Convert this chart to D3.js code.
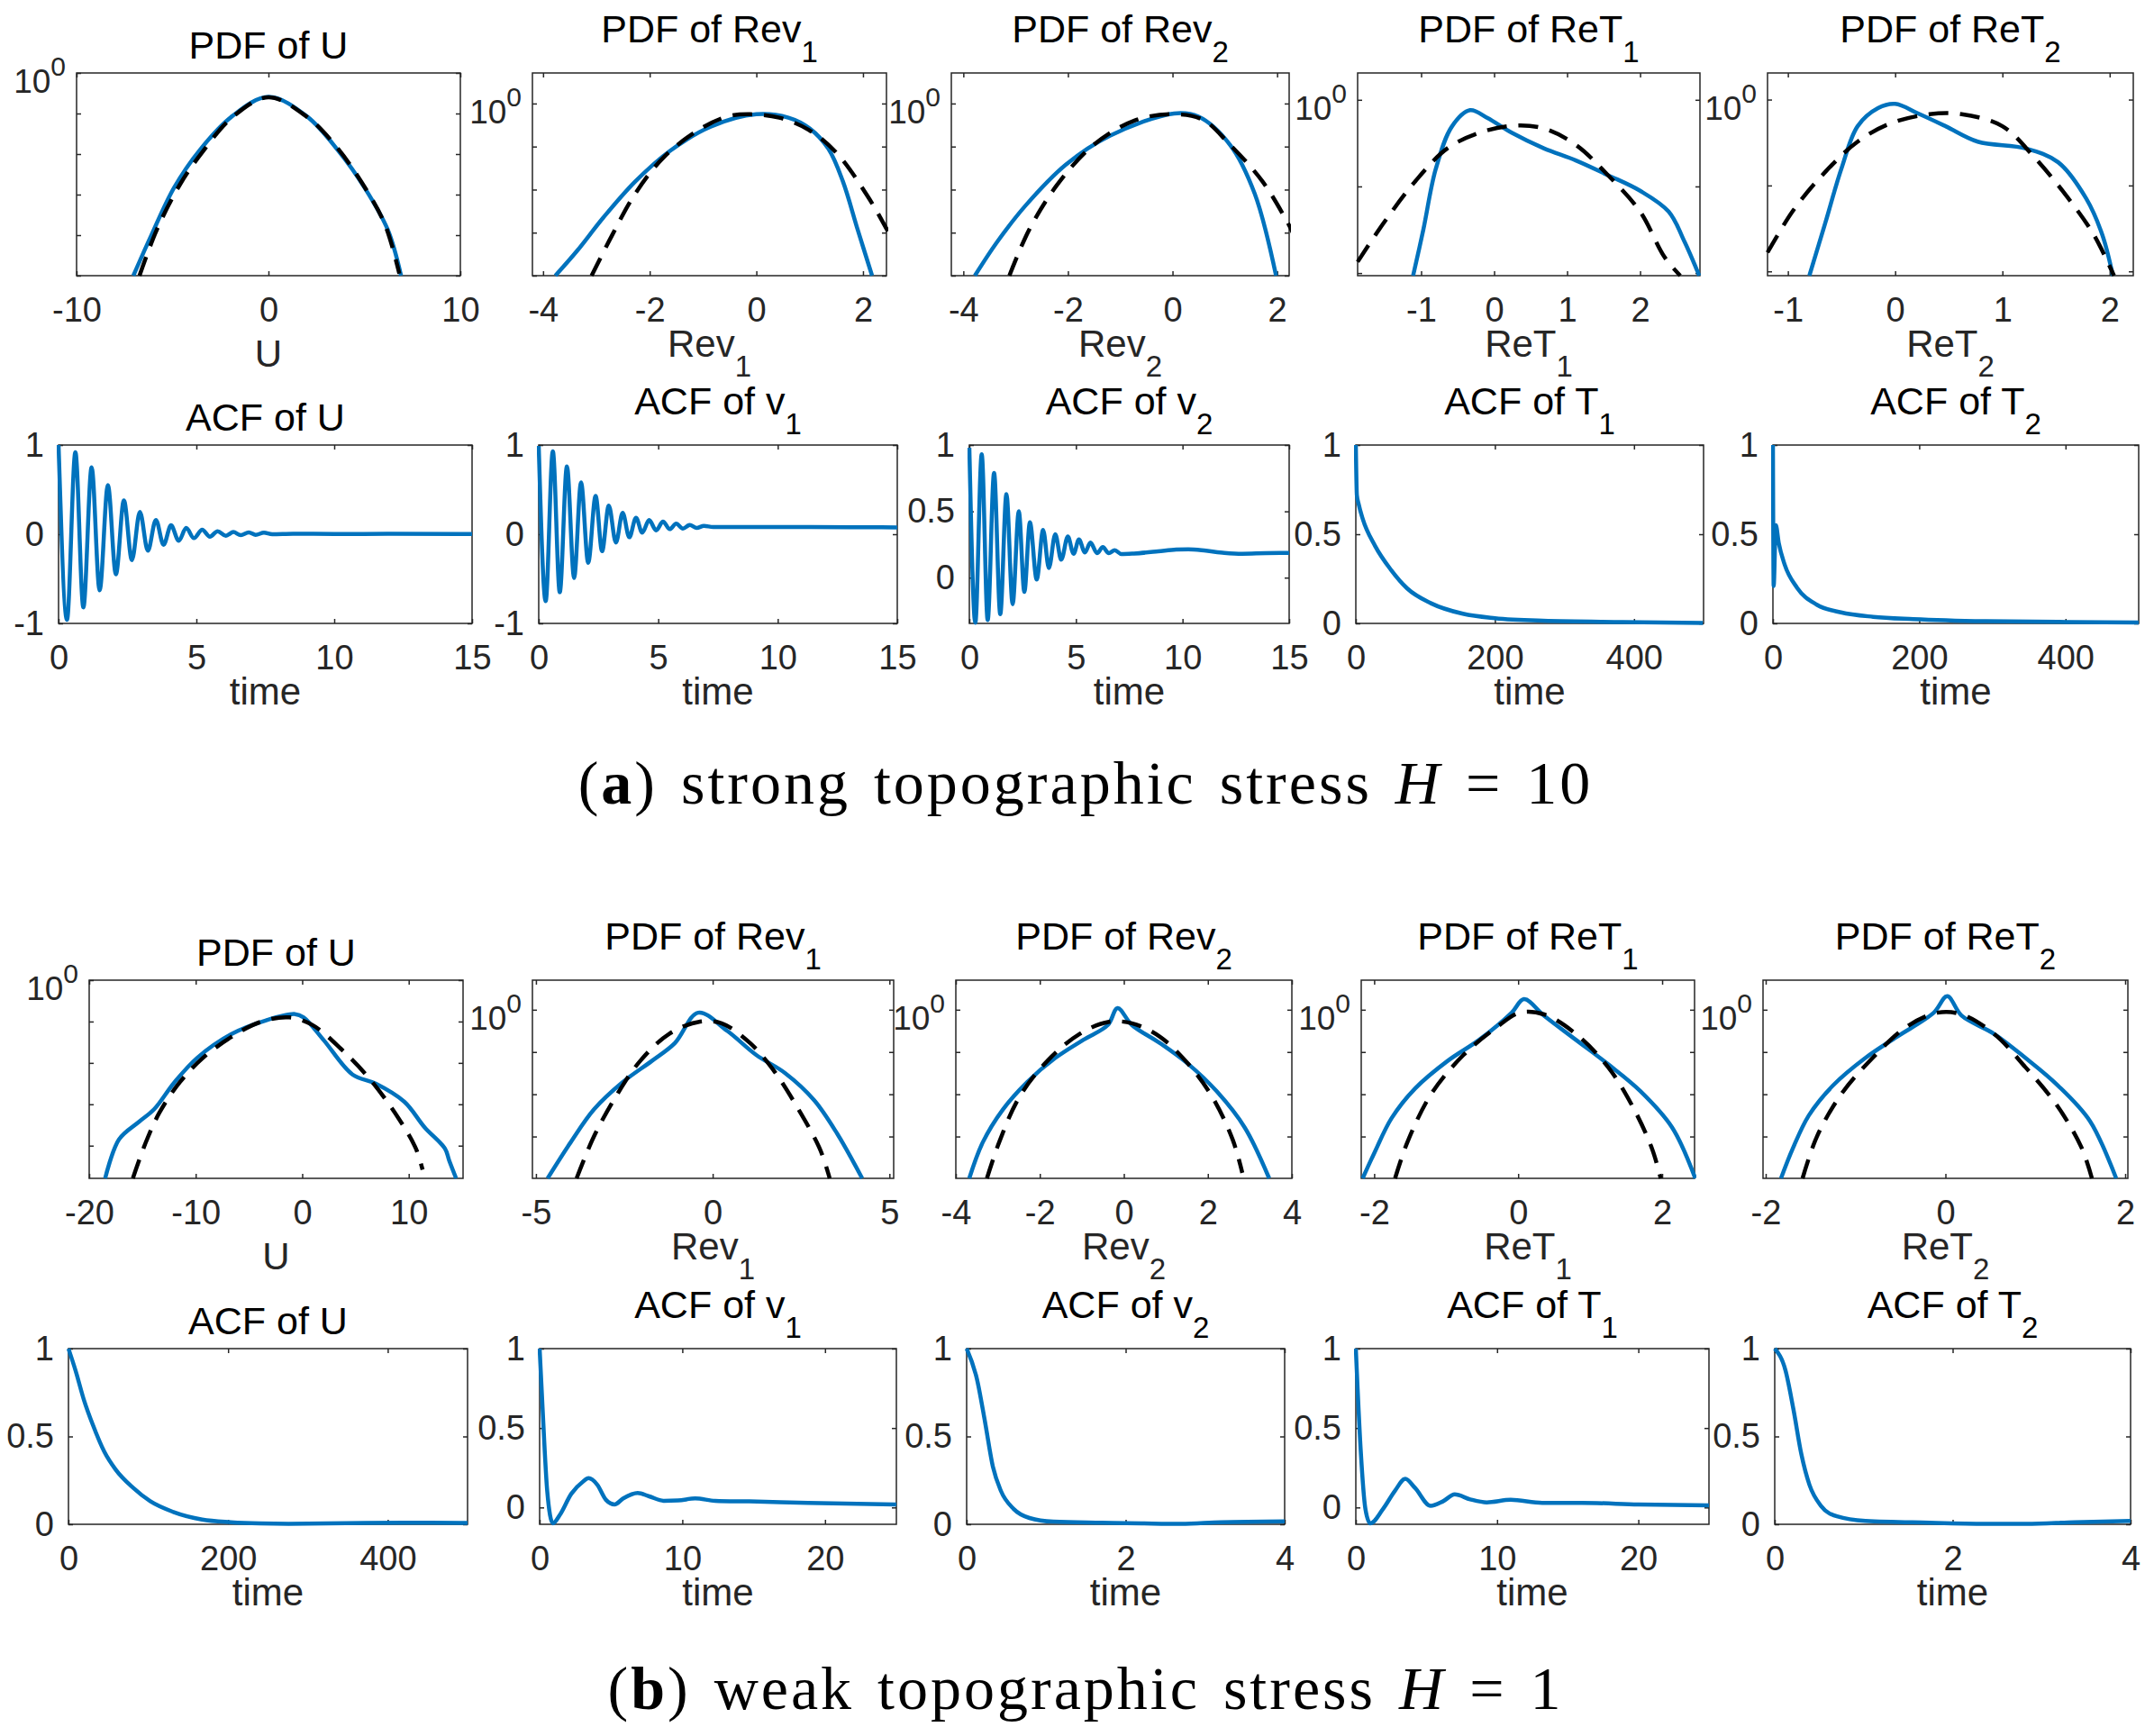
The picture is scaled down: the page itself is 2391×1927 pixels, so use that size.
<!DOCTYPE html>
<html>
<head>
<meta charset="utf-8">
<script src="https://cdn.jsdelivr.net/npm/d3@7"></script>
<style>
  body { margin: 0; background: #fff; }
  svg text { font-family: "Liberation Sans", Arial, sans-serif; }
  svg text.caption { font-family: "Liberation Serif", "DejaVu Serif", serif; letter-spacing: 3px; word-spacing: 6px; }
</style>
</head>
<body>
<svg id="fig" width="2391" height="1927"></svg>
<script>
// ====== Data ======
// PDFs: [x, log10(pdf)]  (blue = simulated, dashed = Gaussian fit)
// (a) strong topographic stress H = 10
const pdfU_a     = [[-7.04,-5.0],[-6.12,-4.02],[-4.92,-2.83],[-3.56,-1.89],[-1.9,-1.07],[0,-0.59],[2.0,-1.07],[3.66,-1.93],[5.01,-2.83],[6.22,-3.87],[6.91,-5.0]];
const gaussU_a   = [[-6.72,-5.0],[-5.82,-3.87],[-4.61,-2.75],[-3.41,-1.93],[-1.9,-1.1],[0,-0.6],[2.0,-1.08],[3.51,-1.8],[4.86,-2.7],[6.07,-3.74],[6.82,-4.95]];
const pdfRev1_a  = [[-3.77,-4.0],[-3.36,-3.42],[-2.87,-2.65],[-2.27,-1.81],[-1.62,-1.1],[-0.86,-0.54],[0,-0.25],[0.6,-0.33],[1.0,-0.58],[1.35,-1.05],[1.62,-1.8],[1.9,-2.93],[2.17,-4.0]];
const gaussRev1_a= [[-3.09,-4.0],[-2.71,-3.07],[-2.27,-2.09],[-1.73,-1.24],[-1.08,-0.61],[-0.54,-0.3],[-0.11,-0.25],[0.43,-0.33],[0.98,-0.61],[1.52,-1.17],[2.07,-2.12],[2.37,-2.75],[2.5,-3.05]];
const pdfRev2_a  = [[-3.78,-4.0],[-3.35,-3.21],[-2.81,-2.37],[-2.04,-1.42],[-1.2,-0.75],[0.03,-0.23],[0.49,-0.3],[1.1,-0.96],[1.57,-2.09],[1.98,-4.0]];
const gaussRev2_a= [[-3.12,-4.0],[-2.74,-2.93],[-2.2,-1.88],[-1.51,-0.96],[-0.74,-0.4],[-0.05,-0.25],[0.57,-0.37],[1.1,-0.96],[1.72,-1.81],[2.18,-2.72],[2.3,-3.0]];
const pdfReT1_a  = [[-1.11,-2.03],[-0.97,-1.5],[-0.8,-0.8],[-0.58,-0.31],[-0.33,-0.12],[-0.09,-0.21],[0.24,-0.38],[0.68,-0.56],[1.12,-0.7],[1.56,-0.87],[2.0,-1.05],[2.39,-1.29],[2.61,-1.64],[2.81,-2.03]];
const gaussReT1_a= [[-1.87,-1.87],[-1.52,-1.43],[-1.08,-0.94],[-0.64,-0.56],[-0.2,-0.38],[0.24,-0.3],[0.68,-0.33],[1.12,-0.52],[1.56,-0.87],[2.0,-1.29],[2.33,-1.81],[2.55,-2.03]];
const pdfReT2_a  = [[-0.8,-2.05],[-0.65,-1.43],[-0.5,-0.8],[-0.35,-0.31],[-0.16,-0.1],[0,-0.05],[0.21,-0.16],[0.47,-0.31],[0.77,-0.49],[1.22,-0.57],[1.52,-0.73],[1.78,-1.15],[1.93,-1.57],[2.03,-2.05]];
const gaussReT2_a= [[-1.19,-1.78],[-0.95,-1.29],[-0.65,-0.84],[-0.35,-0.49],[-0.05,-0.28],[0.32,-0.17],[0.62,-0.17],[1.0,-0.31],[1.29,-0.66],[1.59,-1.11],[1.85,-1.57],[2.04,-2.05]];
// (b) weak topographic stress H = 1
const pdfU_b     = [[-18.5,-4.79],[-17.2,-3.85],[-15.3,-3.42],[-13.9,-3.12],[-12.0,-2.47],[-9.87,-1.88],[-6.63,-1.3],[-3.38,-0.97],[-0.68,-0.82],[0.13,-0.9],[2.02,-1.45],[4.72,-2.28],[6.89,-2.5],[9.59,-2.94],[11.5,-3.56],[13.4,-4.07],[13.8,-4.36],[14.45,-4.79]];
const gaussU_b   = [[-15.9,-4.79],[-14.7,-3.93],[-13.4,-3.2],[-11.5,-2.47],[-9.33,-1.88],[-6.63,-1.37],[-3.92,-1.01],[-1.22,-0.9],[0.94,-1.08],[3.64,-1.66],[6.35,-2.39],[9.05,-3.34],[10.67,-4.07],[11.3,-4.58]];
const pdfRev1_b  = [[-4.67,-3.99],[-4.02,-3.14],[-3.36,-2.36],[-2.54,-1.71],[-1.72,-1.21],[-1.07,-0.79],[-0.41,-0.07],[0.41,-0.5],[1.23,-1.07],[2.05,-1.5],[2.87,-2.14],[3.52,-2.93],[4.23,-3.99]];
const gaussRev1_b= [[-3.85,-3.99],[-3.36,-3.0],[-2.7,-2.0],[-2.05,-1.21],[-1.23,-0.57],[-0.41,-0.29],[0.25,-0.32],[1.06,-0.79],[1.72,-1.43],[2.38,-2.29],[3.03,-3.29],[3.31,-3.99]];
const pdfRev2_b  = [[-3.68,-3.99],[-3.36,-3.14],[-2.88,-2.36],[-2.3,-1.71],[-1.63,-1.14],[-0.96,-0.71],[-0.38,-0.36],[-0.15,0.04],[0.19,-0.36],[0.86,-0.79],[1.54,-1.29],[2.21,-1.93],[2.88,-2.79],[3.46,-3.99]];
const gaussRev2_b= [[-3.26,-3.99],[-2.97,-3.14],[-2.49,-2.07],[-1.82,-1.21],[-1.05,-0.57],[-0.38,-0.29],[0.19,-0.32],[0.86,-0.64],[1.54,-1.29],[2.11,-2.07],[2.59,-3.07],[2.82,-3.86]];
const pdfReT1_b  = [[-2.16,-3.99],[-1.99,-3.36],[-1.76,-2.57],[-1.43,-1.86],[-0.98,-1.21],[-0.54,-0.71],[-0.09,-0.07],[0.08,0.25],[0.36,-0.14],[0.8,-0.71],[1.25,-1.29],[1.7,-1.93],[2.14,-2.79],[2.46,-3.99]];
const gaussReT1_b= [[-1.71,-3.99],[-1.54,-3.14],[-1.21,-2.0],[-0.76,-1.07],[-0.31,-0.43],[0.02,-0.07],[0.36,-0.11],[0.8,-0.57],[1.25,-1.36],[1.59,-2.29],[1.86,-3.29],[1.98,-3.99]];
const pdfReT2_b  = [[-1.83,-3.99],[-1.7,-3.29],[-1.52,-2.5],[-1.25,-1.79],[-0.89,-1.14],[-0.54,-0.64],[-0.13,-0.07],[0.02,0.32],[0.18,-0.14],[0.54,-0.57],[0.89,-1.14],[1.25,-1.79],[1.61,-2.64],[1.9,-3.99]];
const gaussReT2_b= [[-1.59,-3.99],[-1.43,-3.0],[-1.16,-2.0],[-0.81,-1.14],[-0.45,-0.43],[-0.09,-0.07],[0.18,-0.11],[0.54,-0.57],[0.89,-1.36],[1.25,-2.29],[1.52,-3.29],[1.63,-3.99]];

// ACFs: [time, correlation]
const acfU_a  = [[0,1],[0.305,-0.96],[0.61,0.92],[0.9,-0.82],[1.2,0.75],[1.49,-0.63],[1.79,0.55],[2.08,-0.45],[2.37,0.38],[2.66,-0.29],[2.95,0.25],[3.24,-0.185],[3.53,0.16],[3.81,-0.118],[4.08,0.1],[4.36,-0.074],[4.63,0.07],[4.91,-0.044],[5.21,0.05],[5.49,-0.027],[5.77,0.034],[6.07,-0.017],[6.34,0.024],[6.61,-0.01],[6.9,0.02],[7.15,-0.007],[7.45,0.017],[7.75,0.0],[8.5,0.005],[10,0.003],[12,0.004],[15,0.003]];
const acfV1_a = [[0,0.99],[0.29,-0.75],[0.59,0.93],[0.88,-0.65],[1.18,0.76],[1.48,-0.49],[1.77,0.58],[2.07,-0.32],[2.38,0.43],[2.65,-0.19],[2.93,0.32],[3.23,-0.094],[3.51,0.24],[3.79,-0.034],[4.07,0.185],[4.33,0.017],[4.62,0.158],[4.91,0.044],[5.2,0.141],[5.48,0.057],[5.75,0.118],[6.03,0.064],[6.32,0.104],[6.61,0.07],[6.91,0.094],[7.3,0.08],[9,0.08],[11,0.081],[13,0.078],[15,0.077]];
const acfV2_a = [[0,0.98],[0.28,-0.34],[0.58,0.93],[0.86,-0.32],[1.16,0.79],[1.45,-0.275],[1.74,0.63],[2.03,-0.2],[2.32,0.5],[2.58,-0.108],[2.84,0.417],[3.16,-0.014],[3.46,0.36],[3.73,0.072],[4.03,0.327],[4.31,0.135],[4.62,0.31],[4.89,0.18],[5.14,0.288],[5.42,0.19],[5.68,0.264],[5.99,0.185],[6.26,0.23],[6.54,0.185],[6.82,0.207],[7.13,0.178],[7.72,0.182],[8.85,0.198],[9.7,0.212],[10.27,0.214],[11.1,0.203],[11.96,0.187],[12.8,0.18],[13.9,0.185],[15,0.187]];
const acfT1_a = [[0,1],[1.5,0.72],[4,0.67],[10,0.585],[27.6,0.435],[50.6,0.3],[73.6,0.197],[108,0.113],[154,0.054],[200,0.029],[269,0.015],[384,0.008],[499,0.003]];
const acfT2_a = [[0,1],[1,0.21],[4,0.55],[8,0.45],[16,0.33],[33,0.2],[60,0.105],[93,0.062],[137,0.037],[192,0.024],[291,0.012],[401,0.008],[500,0.005]];
const acfU_b  = [[0,1],[8.7,0.878],[19.5,0.706],[30.3,0.569],[44.8,0.414],[59.2,0.311],[80.9,0.208],[102.5,0.131],[131.4,0.07],[167.5,0.027],[203.6,0.012],[239.7,0.005],[275.8,0.003],[348,0.006],[420,0.009],[500,0.008]];
const acfV1_b = [[0,1],[0.2,0.637],[0.53,0.105],[0.93,-0.1],[1.41,-0.048],[2.22,0.086],[3.03,0.162],[3.43,0.184],[4.04,0.143],[4.65,0.048],[5.25,0.019],[5.86,0.057],[6.87,0.091],[7.68,0.07],[8.69,0.042],[9.7,0.044],[10.9,0.057],[12.3,0.042],[14.7,0.038],[18.8,0.029],[25,0.019]];
const acfV2_b = [[0,1],[0.13,0.826],[0.23,0.586],[0.33,0.328],[0.43,0.191],[0.59,0.088],[0.79,0.036],[1.09,0.015],[1.7,0.009],[2.2,0.005],[2.7,0.002],[3.2,0.012],[4,0.017]];
const acfT1_b = [[0,1],[0.34,0.37],[0.68,-0.01],[1.02,-0.1],[1.92,-0.01],[2.77,0.105],[3.5,0.18],[4.18,0.124],[5.3,0.01],[6.16,0.038],[7.0,0.082],[8.1,0.051],[9.27,0.032],[10.96,0.048],[13.2,0.029],[16,0.029],[20,0.019],[25,0.013]];
const acfT2_b = [[0,1],[0.12,0.878],[0.21,0.655],[0.3,0.397],[0.39,0.225],[0.52,0.105],[0.7,0.045],[1.02,0.019],[1.74,0.009],[2.37,0.003],[2.83,0.002],[3.37,0.012],[4,0.019]];

// ====== Layout (pixel boxes of each axes) ======
const rows = {
  pdfA: { y: [81, 306],   x: [[85,511],[591,984],[1056,1431],[1507,1887],[1962,2368]] },
  acfA: { y: [494, 692],  x: [[65,524],[598,996],[1076,1431],[1505,1891],[1968,2374]] },
  pdfB: { y: [1088, 1308],x: [[99,514],[591,992],[1061,1434],[1511,1881],[1957,2362]] },
  acfB: { y: [1497, 1692],x: [[76,519],[599,995],[1073,1426],[1505,1897],[1970,2365]] },
};

const panels = [
  // row (a) PDFs
  { row:'pdfA', col:0, log:true, title:['PDF of U',''],  xlab:['U',''],   xd:[-10,10],    yd:[-5,0],       xt:[-10,0,10],   blue:pdfU_a,    dash:gaussU_a },
  { row:'pdfA', col:1, log:true, title:['PDF of Rev','1'],xlab:['Rev','1'],xd:[-4.2,2.44], yd:[-4,0.71],    xt:[-4,-2,0,2],  blue:pdfRev1_a, dash:gaussRev1_a },
  { row:'pdfA', col:2, log:true, title:['PDF of Rev','2'],xlab:['Rev','2'],xd:[-4.23,2.23],yd:[-4,0.71],    xt:[-4,-2,0,2],  blue:pdfRev2_a, dash:gaussRev2_a },
  { row:'pdfA', col:3, log:true, title:['PDF of ReT','1'],xlab:['ReT','1'],xd:[-1.87,2.82],yd:[-2.03,0.31], xt:[-1,0,1,2],   blue:pdfReT1_a, dash:gaussReT1_a },
  { row:'pdfA', col:4, log:true, title:['PDF of ReT','2'],xlab:['ReT','2'],xd:[-1.19,2.22],yd:[-2.05,0.31], xt:[-1,0,1,2],   blue:pdfReT2_a, dash:gaussReT2_a },
  // row (a) ACFs
  { row:'acfA', col:0, title:['ACF of U',''], xlab:['time',''], xd:[0,15],  yd:[-1,1],     xt:[0,5,10,15], yt:[-1,0,1],    blue:acfU_a },
  { row:'acfA', col:1, title:['ACF of v','1'],xlab:['time',''], xd:[0,15],  yd:[-1,1],     xt:[0,5,10,15], yt:[-1,0,1],    blue:acfV1_a },
  { row:'acfA', col:2, title:['ACF of v','2'],xlab:['time',''], xd:[0,15],  yd:[-0.345,1], xt:[0,5,10,15], yt:[0,0.5,1],   blue:acfV2_a },
  { row:'acfA', col:3, title:['ACF of T','1'],xlab:['time',''], xd:[0,500], yd:[0,1],      xt:[0,200,400], yt:[0,0.5,1],   blue:acfT1_a },
  { row:'acfA', col:4, title:['ACF of T','2'],xlab:['time',''], xd:[0,500], yd:[0,1],      xt:[0,200,400], yt:[0,0.5,1],   blue:acfT2_a },
  // row (b) PDFs
  { row:'pdfB', col:0, log:true, title:['PDF of U',''],  xlab:['U',''],   xd:[-20,15.1],  yd:[-4.79,0],    xt:[-20,-10,0,10], blue:pdfU_b,    dash:gaussU_b },
  { row:'pdfB', col:1, log:true, title:['PDF of Rev','1'],xlab:['Rev','1'],xd:[-5.1,5.12], yd:[-3.99,0.7],  xt:[-5,0,5],       blue:pdfRev1_b, dash:gaussRev1_b },
  { row:'pdfB', col:2, log:true, title:['PDF of Rev','2'],xlab:['Rev','2'],xd:[-4,4],      yd:[-3.99,0.7],  xt:[-4,-2,0,2,4],  blue:pdfRev2_b, dash:gaussRev2_b },
  { row:'pdfB', col:3, log:true, title:['PDF of ReT','1'],xlab:['ReT','1'],xd:[-2.18,2.45],yd:[-3.99,0.7],  xt:[-2,0,2],       blue:pdfReT1_b, dash:gaussReT1_b },
  { row:'pdfB', col:4, log:true, title:['PDF of ReT','2'],xlab:['ReT','2'],xd:[-2.03,2.03],yd:[-3.99,0.7],  xt:[-2,0,2],       blue:pdfReT2_b, dash:gaussReT2_b },
  // row (b) ACFs
  { row:'acfB', col:0, title:['ACF of U',''], xlab:['time',''], xd:[0,500], yd:[0,1],      xt:[0,200,400], yt:[0,0.5,1],   blue:acfU_b },
  { row:'acfB', col:1, title:['ACF of v','1'],xlab:['time',''], xd:[0,25],  yd:[-0.106,1], xt:[0,10,20],   yt:[0,0.5,1],   blue:acfV1_b },
  { row:'acfB', col:2, title:['ACF of v','2'],xlab:['time',''], xd:[0,4],   yd:[0,1],      xt:[0,2,4],     yt:[0,0.5,1],   blue:acfV2_b },
  { row:'acfB', col:3, title:['ACF of T','1'],xlab:['time',''], xd:[0,25],  yd:[-0.106,1], xt:[0,10,20],   yt:[0,0.5,1],   blue:acfT1_b },
  { row:'acfB', col:4, title:['ACF of T','2'],xlab:['time',''], xd:[0,4],   yd:[0,1],      xt:[0,2,4],     yt:[0,0.5,1],   blue:acfT2_b },
];

const AXIS_COLOR = '#262626';
const BLUE = '#0072BD';
const TICK = 5;

const svg = d3.select('#fig');
const defs = svg.append('defs');
svg.append('rect').attr('width', 2391).attr('height', 1927).attr('fill', '#fff');

// text with an optional subscript
function subText(g, x, y, main, sub, size, subSize) {
  const t = g.append('text')
    .attr('x', x).attr('y', y)
    .attr('text-anchor', 'middle')
    .attr('font-size', size)
    .attr('fill', '#000');
  t.append('tspan').text(main);
  if (sub) t.append('tspan').attr('dy', 22).attr('font-size', subSize).text(sub);
  return t;
}

function styleAxis(sel) {
  sel.select('.domain').remove();
  sel.attr('color', AXIS_COLOR).attr('font-size', 38);
  sel.selectAll('line').attr('stroke-width', 1.5);
}

function drawPanel(p, i) {
  const [x0, x1] = rows[p.row].x[p.col];
  const [y0, y1] = rows[p.row].y;
  const g = svg.append('g');

  const x = d3.scaleLinear().domain(p.xd).range([x0, x1]);
  const y = p.log
    ? d3.scaleLog().domain(p.yd.map(v => 10 ** v)).range([y1, y0])
    : d3.scaleLinear().domain(p.yd).range([y1, y0]);
  const yv = p.log ? (d => y(10 ** d[1])) : (d => y(d[1]));

  // ticks on all four sides (decades on log axes)
  const yTicks = p.log
    ? d3.range(Math.ceil(p.yd[0]), Math.floor(p.yd[1]) + 1).map(e => 10 ** e)
    : p.yt;

  g.append('g').attr('transform', `translate(0,${y1})`)
    .call(d3.axisBottom(x).tickValues(p.xt).tickSize(-TICK).tickSizeOuter(0)
      .tickPadding(24).tickFormat(d => String(d)))
    .call(styleAxis);
  g.append('g').attr('transform', `translate(0,${y0})`)
    .call(d3.axisTop(x).tickValues(p.xt).tickSize(-TICK).tickSizeOuter(0).tickFormat(''))
    .call(styleAxis);
  g.append('g').attr('transform', `translate(${x0},0)`)
    .call(d3.axisLeft(y).tickValues(yTicks).tickSize(-TICK).tickSizeOuter(0)
      .tickPadding(16).tickFormat(p.log ? '' : (d => String(d))))
    .call(styleAxis);
  g.append('g').attr('transform', `translate(${x1},0)`)
    .call(d3.axisRight(y).tickValues(yTicks).tickSize(-TICK).tickSizeOuter(0).tickFormat(''))
    .call(styleAxis);

  // 10^0 label on log axes
  if (p.log) {
    const t = g.append('text')
      .attr('x', x0 - 12).attr('y', y(1) + 22)
      .attr('text-anchor', 'end')
      .attr('font-size', 37)
      .attr('fill', AXIS_COLOR);
    t.append('tspan').text('10');
    t.append('tspan').attr('dy', -19).attr('font-size', 30).text('0');
  }

  // frame
  g.append('rect')
    .attr('x', x0).attr('y', y0).attr('width', x1 - x0).attr('height', y1 - y0)
    .attr('fill', 'none').attr('stroke', AXIS_COLOR).attr('stroke-width', 1.5);

  // clipped data
  const clipId = 'clip' + i;
  defs.append('clipPath').attr('id', clipId).append('rect')
    .attr('x', x0 - 2).attr('y', y0 - 2).attr('width', x1 - x0 + 4).attr('height', y1 - y0 + 4);
  const plot = g.append('g').attr('clip-path', `url(#${clipId})`);

  const line = d3.line().x(d => x(d[0])).y(yv)
    .curve(p.log ? d3.curveCatmullRom.alpha(0.5) : d3.curveMonotoneX);

  plot.append('path').attr('d', line(p.blue))
    .attr('fill', 'none').attr('stroke', BLUE).attr('stroke-width', 4.5)
    .attr('stroke-linejoin', 'round');
  if (p.dash) {
    plot.append('path').attr('d', line(p.dash))
      .attr('fill', 'none').attr('stroke', '#000').attr('stroke-width', 4.5)
      .attr('stroke-dasharray', '22,13');
  }

  // title and x label
  const cx = (x0 + x1) / 2;
  const isPdf = p.row.startsWith('pdf');
  subText(g, cx, p.title[1] ? y0 - 34 : y0 - 16, p.title[0], p.title[1], 43, 33);
  const labY = isPdf ? (p.xlab[1] ? y1 + 90 : y1 + 101) : y1 + 90;
  subText(g, cx, labY, p.xlab[0], p.xlab[1], 42, 33).attr('fill', AXIS_COLOR);
}

panels.forEach(drawPanel);

// ====== Captions ======
function caption(y, letter, rest, hval) {
  const t = svg.append('text')
    .attr('class', 'caption')
    .attr('x', 1205).attr('y', y)
    .attr('text-anchor', 'middle')
    .attr('font-size', 68)
    .attr('fill', '#000');
  t.append('tspan').text('(');
  t.append('tspan').attr('font-weight', 'bold').text(letter);
  t.append('tspan').text(') ' + rest + ' ');
  t.append('tspan').attr('font-style', 'italic').text('H');
  t.append('tspan').text(' = ' + hval);
}
caption(892, 'a', 'strong topographic stress', '10');
caption(1897, 'b', 'weak topographic stress', '1');
</script>
</body>
</html>
